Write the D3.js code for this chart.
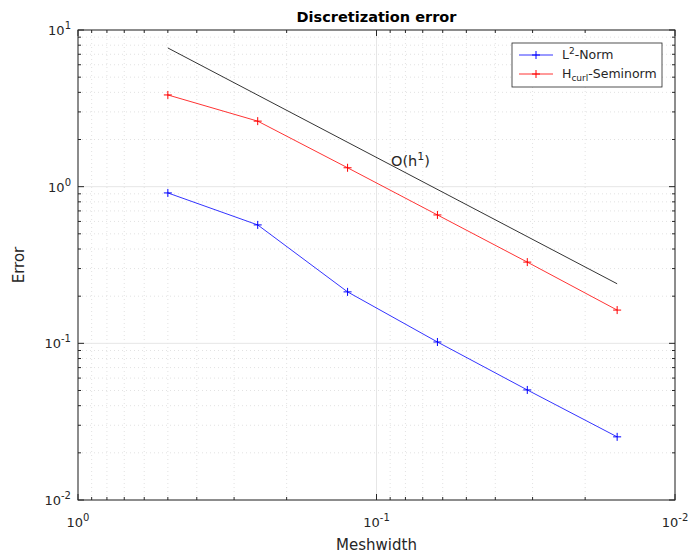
<!DOCTYPE html>
<html>
<head>
<meta charset="utf-8">
<script src="https://cdn.jsdelivr.net/npm/d3@7"></script>
<style>
body { margin: 0; background: #fff; }
svg text { font-family: "DejaVu Sans", sans-serif; fill: #262626; }
</style>
</head>
<body>
<div id="container"></div>
<script>
// meshwidths and errors
const meshwidth = [0.5, 0.25, 0.125, 0.0625, 0.03125, 0.015625];
const l2Norm = [0.912, 0.570, 0.213, 0.102, 0.0504, 0.0253];
const hcurlSemi = [3.85, 2.62, 1.32, 0.66, 0.33, 0.163];
const refConst = 15.36; // O(h^1) reference line: refConst * h
const xTickExp = [0, -1, -2];
const yTickExp = [1, 0, -1, -2];

const width = 688, height = 555;
const margin = { top: 30, right: 13, bottom: 55, left: 78 };
const axisColor = "#262626";

let svg = d3.select("#container").append("svg")
    .attr("width", width)
    .attr("height", height);

var x = d3.scaleLog()
    .domain([1, 0.01])
    .range([margin.left, width - margin.right]);
var y = d3.scaleLog()
    .domain([0.01, 10])
    .range([height - margin.bottom, margin.top]);

let x0 = x.range()[0], x1 = x.range()[1];
let y0 = y.range()[0], y1 = y.range()[1];

// minor / major tick values
let xMinor = [], yMinor = [];
for (let e = -2; e < 0; e++) for (let m = 2; m <= 9; m++) xMinor.push(m * Math.pow(10, e));
for (let e = -2; e < 1; e++) for (let m = 2; m <= 9; m++) yMinor.push(m * Math.pow(10, e));
let xMajor = xTickExp.map(e => Math.pow(10, e));
let yMajor = yTickExp.map(e => Math.pow(10, e));

let grid = svg.append("g").attr("class", "grid");
grid.selectAll(".xminor").data(xMinor).enter().append("line")
    .attr("x1", d => x(d)).attr("x2", d => x(d))
    .attr("y1", y0).attr("y2", y1)
    .attr("stroke", "#e2e2e2").attr("stroke-width", 1)
    .attr("stroke-dasharray", "1,3");
grid.selectAll(".yminor").data(yMinor).enter().append("line")
    .attr("y1", d => y(d)).attr("y2", d => y(d))
    .attr("x1", x0).attr("x2", x1)
    .attr("stroke", "#e2e2e2").attr("stroke-width", 1)
    .attr("stroke-dasharray", "1,3");
grid.selectAll(".xmajor").data(xMajor).enter().append("line")
    .attr("x1", d => x(d)).attr("x2", d => x(d))
    .attr("y1", y0).attr("y2", y1)
    .attr("stroke", "#e6e6e6").attr("stroke-width", 1);
grid.selectAll(".ymajor").data(yMajor).enter().append("line")
    .attr("y1", d => y(d)).attr("y2", d => y(d))
    .attr("x1", x0).attr("x2", x1)
    .attr("stroke", "#e6e6e6").attr("stroke-width", 1);

// reference line
let refLine = d3.line().x(d => x(d)).y(d => y(refConst * d));
svg.append("path")
    .datum([meshwidth[0], meshwidth[meshwidth.length - 1]])
    .attr("fill", "none")
    .attr("stroke", "#000")
    .attr("stroke-width", 0.8)
    .attr("d", refLine);

let txt = svg.append("text")
    .attr("x", x(0.0894))
    .attr("y", y(1.36))
    .style("font-size", "14.5px");
txt.append("tspan").text("O(h");
txt.append("tspan").attr("dy", -6).style("font-size", "11px").text("1");
txt.append("tspan").attr("dy", 6).text(")");

// series
let series = [
    { name: "L2", values: l2Norm, color: "#0000ff" },
    { name: "Hcurl", values: hcurlSemi, color: "#ff0000" }
];
let line = d3.line()
    .x(d => x(d[0]))
    .y(d => y(d[1]));
series.forEach(s => {
    let pts = meshwidth.map((h, i) => [h, s.values[i]]);
    svg.append("path")
        .datum(pts)
        .attr("fill", "none")
        .attr("stroke", s.color)
        .attr("stroke-width", 0.8)
        .attr("d", line);
    svg.selectAll(".mk-" + s.name).data(pts).enter().append("path")
        .attr("d", d => {
            let cx = x(d[0]), cy = y(d[1]), r = 4;
            return `M${cx - r},${cy}H${cx + r}M${cx},${cy - r}V${cy + r}`;
        })
        .attr("stroke", s.color)
        .attr("stroke-width", 1);
});

// axes box and ticks (inside, all four sides)
let ax = svg.append("g").attr("class", "axes");
ax.append("rect")
    .attr("x", x0).attr("y", y1)
    .attr("width", x1 - x0).attr("height", y0 - y1)
    .attr("fill", "none").attr("stroke", axisColor).attr("stroke-width", 1);

function xTicks(vals, len) {
    vals.forEach(v => {
        ax.append("line").attr("x1", x(v)).attr("x2", x(v))
            .attr("y1", y0).attr("y2", y0 - len).attr("stroke", axisColor);
        ax.append("line").attr("x1", x(v)).attr("x2", x(v))
            .attr("y1", y1).attr("y2", y1 + len).attr("stroke", axisColor);
    });
}
function yTicks(vals, len) {
    vals.forEach(v => {
        ax.append("line").attr("y1", y(v)).attr("y2", y(v))
            .attr("x1", x0).attr("x2", x0 + len).attr("stroke", axisColor);
        ax.append("line").attr("y1", y(v)).attr("y2", y(v))
            .attr("x1", x1).attr("x2", x1 - len).attr("stroke", axisColor);
    });
}
xTicks(xMinor, 3); xTicks(xMajor, 6);
yTicks(yMinor, 3); yTicks(yMajor, 6);

// tick labels with superscript exponents
xTickExp.forEach(e => {
    let t = ax.append("text")
        .attr("x", x(Math.pow(10, e)))
        .attr("y", y0 + 27)
        .attr("text-anchor", "middle")
        .style("font-size", "13px");
    t.append("tspan").text("10");
    t.append("tspan").attr("dy", -6).style("font-size", "10px").text(e);
});
yTickExp.forEach(e => {
    let t = ax.append("text")
        .attr("x", x0 - 7)
        .attr("y", y(Math.pow(10, e)) + 5)
        .attr("text-anchor", "end")
        .style("font-size", "13px");
    t.append("tspan").text("10");
    t.append("tspan").attr("dy", -6).style("font-size", "10px").text(e);
});

// labels and title
svg.append("text")
    .attr("x", (x0 + x1) / 2).attr("y", 550)
    .attr("text-anchor", "middle")
    .style("font-size", "15px")
    .text("Meshwidth");
svg.append("text")
    .attr("transform", `translate(24,${(y0 + y1) / 2}) rotate(-90)`)
    .attr("text-anchor", "middle")
    .style("font-size", "15px")
    .text("Error");
svg.append("text")
    .attr("x", (x0 + x1) / 2).attr("y", 22)
    .attr("text-anchor", "middle")
    .style("font-size", "14.5px")
    .style("font-weight", "bold")
    .style("fill", "#000")
    .text("Discretization error");

// legend
let legend = svg.append("g").attr("transform", "translate(512,43)");
legend.append("rect")
    .attr("width", 150).attr("height", 44)
    .attr("fill", "#fff").attr("stroke", axisColor).attr("stroke-width", 0.8);
let legendItems = [
    { base: "L", sup: "2", sub: null, rest: "-Norm", color: "#0000ff" },
    { base: "H", sup: null, sub: "curl", rest: "-Seminorm", color: "#ff0000" }
];
legendItems.forEach((it, i) => {
    let ly = 12 + i * 19;
    legend.append("line").attr("x1", 7).attr("x2", 41)
        .attr("y1", ly).attr("y2", ly)
        .attr("stroke", it.color).attr("stroke-width", 0.8);
    legend.append("path")
        .attr("d", `M20,${ly}H28M24,${ly - 4}V${ly + 4}`)
        .attr("stroke", it.color).attr("stroke-width", 1);
    let t = legend.append("text").attr("x", 50).attr("y", ly + 4)
        .style("font-size", "12.5px");
    t.append("tspan").text(it.base);
    if (it.sup) {
        t.append("tspan").attr("dy", -5).style("font-size", "9px").text(it.sup);
        t.append("tspan").attr("dy", 5).text(it.rest);
    } else {
        t.append("tspan").attr("dy", 3).style("font-size", "9px").text(it.sub);
        t.append("tspan").attr("dy", -3).text(it.rest);
    }
});
</script>
</body>
</html>
